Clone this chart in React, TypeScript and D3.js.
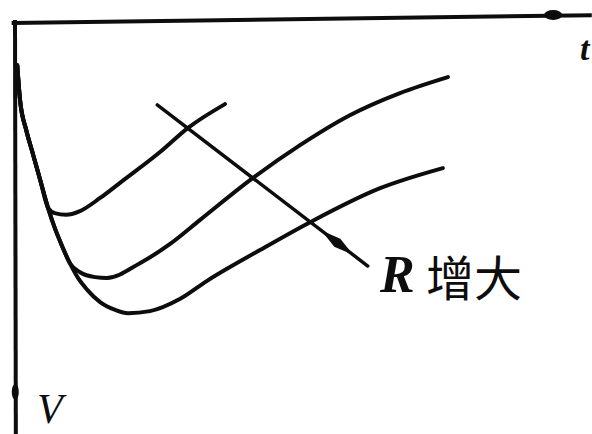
import React, { useEffect, useRef } from 'react';
import * as d3 from 'd3';

// shared trunk of the three curves (t, V)
const trunkT = [0.4, 0.9, 2.0, 3.0, 4.5, 5.9];
const trunkV = [11.5, 20.0, 27.3, 32.2, 39.5, 46.3];

// after the first branch point
const curve1T = [7.1, 9.1, 11.6, 15.2, 18.75, 25.9, 30.9, 37.5];
const curve1V = [47.6, 48.0, 47.1, 43.9, 40.2, 32.7, 26.8, 21.0];

// curves 2 and 3 run together a bit longer
const sharedT = [7.1, 8.4, 9.8];
const sharedV = [51.2, 55.6, 59.8];

const curve2T = [11.6, 14.3, 16.4, 22.3, 27.7, 33.0, 42.5, 50.9, 59.8, 68.75, 77.3];
const curve2V = [62.0, 63.2, 63.4, 59.8, 55.1, 49.3, 39.0, 31.0, 23.7, 18.3, 14.4];

const curve3T = [11.25, 12.9, 15.2, 17.9, 20.2, 24.1, 29.5, 34.3, 43.75, 52.7, 65.2, 76.4];
const curve3V = [63.4, 66.3, 69.3, 71.2, 72.0, 71.5, 68.5, 64.1, 56.6, 49.8, 41.5, 36.6];

// "R increases" arrow
const arrowT = [25.4, 63.0];
const arrowV = [21.2, 60.5];

const zip = (t: number[], v: number[]) => t.map((d, i) => [d, v[i]] as [number, number]);

export default function App() {
  const ref = useRef<SVGSVGElement>(null);

  useEffect(() => {
    const svg = d3.select(ref.current);
    svg.selectAll('*').remove();

    const x = d3.scaleLinear().domain([0, 100]).range([15, 575]);
    const y = d3.scaleLinear().domain([0, 100]).range([18, 428]);

    const line = d3.line<[number, number]>()
      .x(d => x(d[0]))
      .y(d => y(d[1]))
      .curve(d3.curveMonotoneX);

    const ink = '#0d0d0d';

    // axes
    svg.append('line')
      .attr('x1', x(-0.6)).attr('y1', y(1.2))
      .attr('x2', x(103)).attr('y2', y(-0.7))
      .attr('stroke', ink).attr('stroke-width', 4);
    svg.append('line')
      .attr('x1', x(0)).attr('y1', y(0.5))
      .attr('x2', x(0.15)).attr('y2', 440)
      .attr('stroke', ink).attr('stroke-width', 4);
    svg.append('ellipse')
      .attr('cx', x(96.1)).attr('cy', y(-0.75))
      .attr('rx', 9).attr('ry', 5).attr('fill', ink);
    svg.append('ellipse')
      .attr('cx', x(0.05)).attr('cy', y(91.2))
      .attr('rx', 3.5).attr('ry', 8).attr('fill', ink);

    const trunk = zip(trunkT, trunkV);
    const shared = zip(sharedT, sharedV);
    const series = [
      trunk.concat(zip(curve1T, curve1V)),
      trunk.concat(shared, zip(curve2T, curve2V)),
      trunk.concat(shared, zip(curve3T, curve3V)),
    ];

    svg.append('g').selectAll('path').data(series).enter().append('path')
      .attr('d', d => line(d))
      .attr('fill', 'none')
      .attr('stroke', ink)
      .attr('stroke-width', 4)
      .attr('stroke-linecap', 'round')
      .attr('stroke-linejoin', 'round');

    // arrow
    const x1 = x(arrowT[0]), y1 = y(arrowV[0]);
    const x2 = x(arrowT[1]), y2 = y(arrowV[1]);
    svg.append('line')
      .attr('x1', x1).attr('y1', y1).attr('x2', x2).attr('y2', y2)
      .attr('stroke', ink).attr('stroke-width', 3.4)
      .attr('stroke-linecap', 'round');
    const len = Math.hypot(x2 - x1, y2 - y1);
    const ux = (x2 - x1) / len, uy = (y2 - y1) / len;
    const px = -uy, py = ux;
    const c0 = len * 0.78, c1 = len * 0.93, cm = len * 0.855, w = 5;
    const pt = (s: number, o: number) => [x1 + ux * s + px * o, y1 + uy * s + py * o];
    const head = [pt(c0, 0), pt(cm, w), pt(c1, 0), pt(cm, -w)];
    svg.append('path')
      .attr('d', 'M' + head.map(p => p.join(',')).join('L') + 'Z')
      .attr('fill', ink);

    // labels
    svg.append('text')
      .attr('x', 580).attr('y', 60)
      .attr('font-family', '"Liberation Serif", serif')
      .attr('font-style', 'italic').attr('font-weight', 'bold')
      .attr('font-size', 34).attr('fill', ink)
      .text('t');
    svg.append('text')
      .attr('x', 37).attr('y', 423)
      .attr('font-family', '"Liberation Serif", serif')
      .attr('font-style', 'italic')
      .attr('font-size', 42).attr('fill', ink)
      .text('V');
    svg.append('text')
      .attr('x', 380).attr('y', 292)
      .attr('font-family', '"Liberation Serif", serif')
      .attr('font-style', 'italic').attr('font-weight', 'bold')
      .attr('font-size', 52).attr('fill', ink)
      .text('R');
    svg.append('text')
      .attr('x', 426).attr('y', 296)
      .attr('font-family', '"Noto Sans CJK SC", sans-serif')
      .attr('font-size', 48).attr('fill', ink)
      .text('增大');
  }, []);

  return (
    <svg
      ref={ref}
      width={592}
      height={434}
      style={{ position: 'absolute', left: 0, top: 0, background: '#fff' }}
    />
  );
}
